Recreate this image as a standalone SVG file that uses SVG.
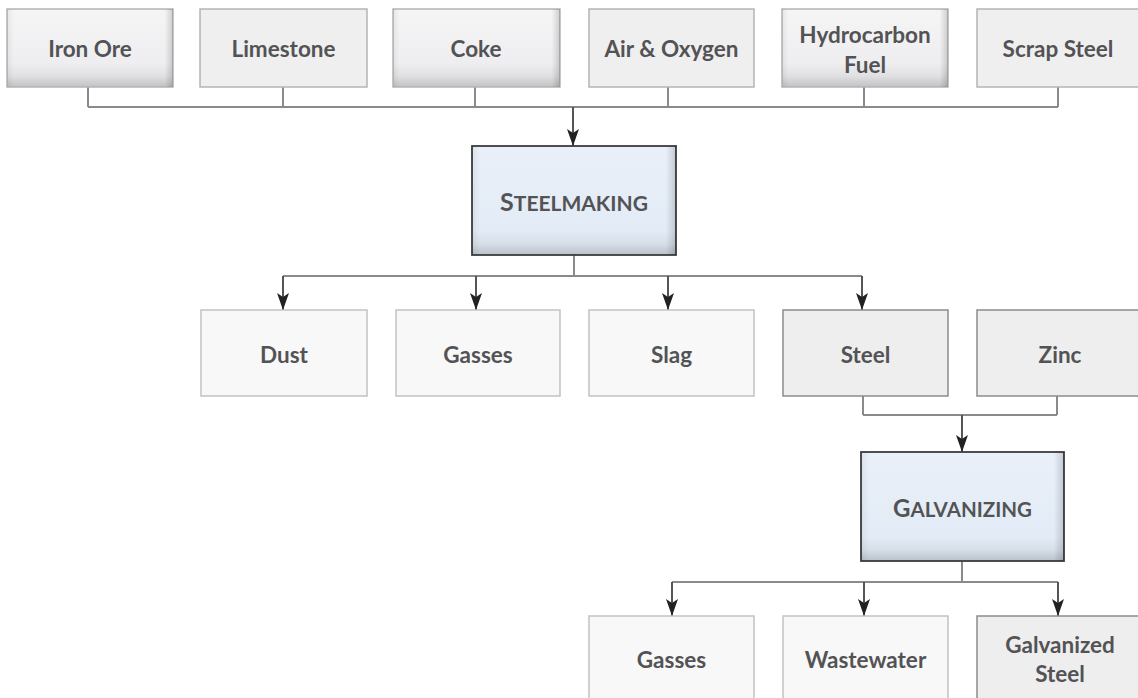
<svg xmlns="http://www.w3.org/2000/svg" width="1138" height="698" viewBox="0 0 1138 698">
<defs>
<linearGradient id="gV" x1="0" y1="0" x2="0" y2="1">
<stop offset="0" stop-color="#f5f5f6"/><stop offset="0.7" stop-color="#eeeef0"/><stop offset="0.86" stop-color="#e0e0e2"/><stop offset="1" stop-color="#c2c2c4"/>
</linearGradient>
<linearGradient id="bV" x1="0" y1="0" x2="0" y2="1">
<stop offset="0" stop-color="#e9f0f9"/><stop offset="0.78" stop-color="#e3ebf6"/><stop offset="0.9" stop-color="#d6dee8"/><stop offset="1" stop-color="#b9c0ca"/>
</linearGradient>
<linearGradient id="sH" x1="0" y1="0" x2="1" y2="0">
<stop offset="0" stop-color="#000" stop-opacity="0.06"/><stop offset="0.04" stop-color="#000" stop-opacity="0"/><stop offset="0.95" stop-color="#000" stop-opacity="0"/><stop offset="1" stop-color="#000" stop-opacity="0.16"/>
</linearGradient>
<marker id="ah" viewBox="0 -6 17 12" refX="17" refY="0" markerWidth="17" markerHeight="12" markerUnits="userSpaceOnUse" orient="auto">
<path d="M0,-6 L17,0 L0,6 L4,0 z" fill="#222"/>
</marker>
<style>
.t{font-family:Lato,"Open Sans","Liberation Sans",sans-serif;font-weight:bold;font-size:22.5px;fill:#535355;text-anchor:middle}
.bev{fill:url(#gV);stroke:#b4b4b6;stroke-width:1.5}
.flat{fill:#efeff0;stroke:#b4b4b6;stroke-width:1.5}
.lite{fill:#f8f8f8;stroke:#c2c2c2;stroke-width:1.5}
.mid{fill:#eeeeef;stroke:#8c8c8e;stroke-width:1.5}
.blue{fill:url(#bV);stroke:#3c3c3e;stroke-width:1.8}
.sh{fill:url(#sH)}
.c{fill:none;stroke:#8a8a8a;stroke-width:2}
.a{fill:none;stroke:#555;stroke-width:2;marker-end:url(#ah)}
</style>
</defs>
<rect width="1138" height="698" fill="#fff"/>
<g id="connectors">
<path class="c" d="M88,87 V107 M283,87 V107 M475,87 V107 M668,87 V107 M864,87 V107 M1058,87 V107 M88,107 H1058"/>
<path class="a" d="M573,107 V146"/>
<path class="c" d="M574,255 V276 M283,276 H862"/>
<path class="a" d="M283,276 V310"/>
<path class="a" d="M476,276 V310"/>
<path class="a" d="M668,276 V310"/>
<path class="a" d="M862,276 V310"/>
<path class="c" d="M863,396 V415 M1057,396 V415 M863,415 H1057"/>
<path class="a" d="M962,415 V452"/>
<path class="c" d="M962,561 V582 M672,582 H1058"/>
<path class="a" d="M672,582 V616"/>
<path class="a" d="M864,582 V616"/>
<path class="a" d="M1058,582 V616"/>
</g>
<g id="iron-ore"><rect class="bev" x="7" y="9" width="166" height="78"/><rect class="sh" x="7" y="9" width="166" height="78"/><text class="t" x="90" y="57">Iron Ore</text></g>
<g id="limestone"><rect class="flat" x="200" y="9" width="167" height="78"/><text class="t" x="283.5" y="57">Limestone</text></g>
<g id="coke"><rect class="bev" x="393" y="9" width="167" height="78"/><rect class="sh" x="393" y="9" width="167" height="78"/><text class="t" x="476" y="57">Coke</text></g>
<g id="air-oxygen"><rect class="flat" x="589" y="9" width="165" height="78"/><text class="t" x="671.5" y="57">Air &amp; Oxygen</text></g>
<g id="hydrocarbon-fuel"><rect class="bev" x="782" y="9" width="166" height="78"/><rect class="sh" x="782" y="9" width="166" height="78"/><text class="t" x="865" y="43">Hydrocarbon</text><text class="t" x="865" y="73">Fuel</text></g>
<g id="scrap-steel"><rect class="flat" x="977" y="9" width="170" height="78"/><text class="t" x="1058" y="57">Scrap Steel</text></g>
<g id="steelmaking"><rect class="blue" x="472" y="146" width="204" height="109"/><rect class="sh" x="472" y="146" width="204" height="109"/><text class="t" x="574" y="211"><tspan font-size="25">S</tspan><tspan font-size="21">TEELMAKING</tspan></text></g>
<g id="dust"><rect class="lite" x="201" y="310" width="166" height="86"/><text class="t" x="284" y="363">Dust</text></g>
<g id="gasses-1"><rect class="lite" x="396" y="310" width="164" height="86"/><text class="t" x="478" y="363">Gasses</text></g>
<g id="slag"><rect class="lite" x="589" y="310" width="165" height="86"/><text class="t" x="671.5" y="363">Slag</text></g>
<g id="steel"><rect class="mid" x="783" y="310" width="165" height="86"/><text class="t" x="865.5" y="363">Steel</text></g>
<g id="zinc"><rect class="mid" x="977" y="310" width="170" height="86"/><text class="t" x="1060" y="363">Zinc</text></g>
<g id="galvanizing"><rect class="blue" x="861" y="452" width="203" height="109"/><rect class="sh" x="861" y="452" width="203" height="109"/><text class="t" x="962.5" y="517"><tspan font-size="24">G</tspan><tspan font-size="20.5">ALVANIZING</tspan></text></g>
<g id="gasses-2"><rect class="lite" x="589" y="616" width="165" height="90"/><text class="t" x="671.5" y="668">Gasses</text></g>
<g id="wastewater"><rect class="lite" x="783" y="616" width="165" height="90"/><text class="t" x="865.5" y="668">Wastewater</text></g>
<g id="galvanized-steel"><rect class="mid" x="977" y="616" width="170" height="90"/><text class="t" x="1060" y="653">Galvanized</text><text class="t" x="1060" y="682">Steel</text></g>
</svg>
